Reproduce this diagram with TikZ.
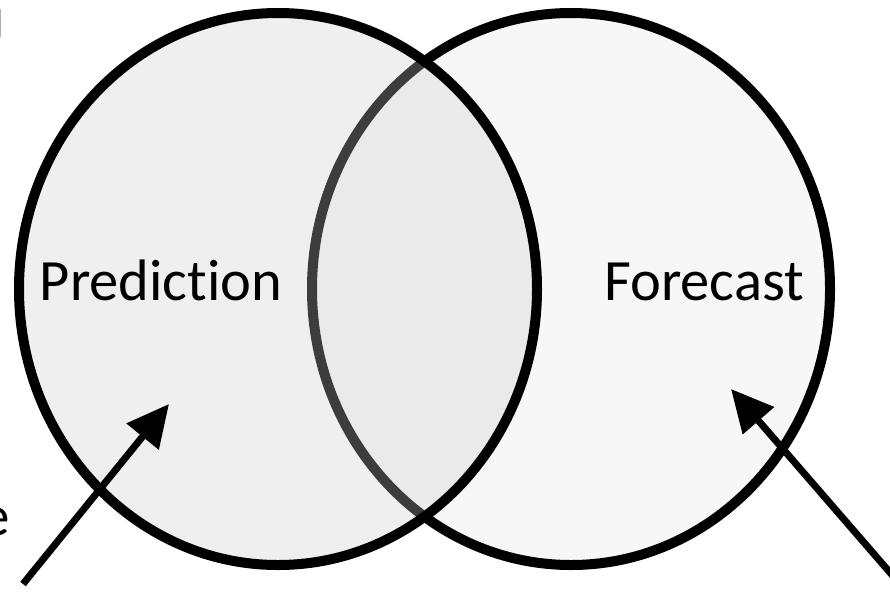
\documentclass[tikz,border=0pt]{standalone}
\usepackage{fontspec}
\setmainfont{Carlito}[Ligatures={NoCommon}]
\usetikzlibrary{shapes.geometric, arrows.meta, positioning}
\tikzset{
  venn/.style={ellipse, draw=black, line width=10pt,
    minimum width=518pt, minimum height=552pt, inner sep=0pt},
  vennlabel/.style={font=\fontsize{58.5}{62}\selectfont, anchor=base,
    inner sep=0pt, text=black},
  edgetext/.style={font=\fontsize{57}{60}\selectfont, inner sep=0pt,
    text=black},
  pointer/.style={-{Triangle[length=42pt, width=40pt]}, line width=7pt,
    draw=black},
}
\begin{document}
\begin{tikzpicture}[x=1pt, y=1pt]
\useasboundingbox (0,0) rectangle (890,-591);
\fill[white] (0,0) rectangle (890,-591);
\clip (0,0) rectangle (890,-591);

% right set first, left set laid over it
\node (forecast) [venn, fill={rgb,255:red,247;green,247;blue,247}] at (571,-289) {};
\node (prediction) [venn, fill=black!20, fill opacity=0.3] at (278,-289) {};

\node (predtext) [vennlabel] at (161,-300) {Prediction};
\node (foretext) [vennlabel] at (704,-300) {Forecast};

% cut-off text at the left edge
\node (cutl) [edgetext, font=\fontsize{40}{44}\selectfont, anchor=north east] at (3.5,-10) {l};
\node (cute) [edgetext, anchor=base east] at (10,-535) {e};

\coordinate (predtail) at (23,-584);
\coordinate (predtip) at (169,-404);
\coordinate (foretail) at (893,-576);
\coordinate (foretip) at (731,-389);

\draw[pointer] (predtail) -- (predtip);
\draw[pointer] (foretail) -- (foretip);

\end{tikzpicture}
\end{document}
